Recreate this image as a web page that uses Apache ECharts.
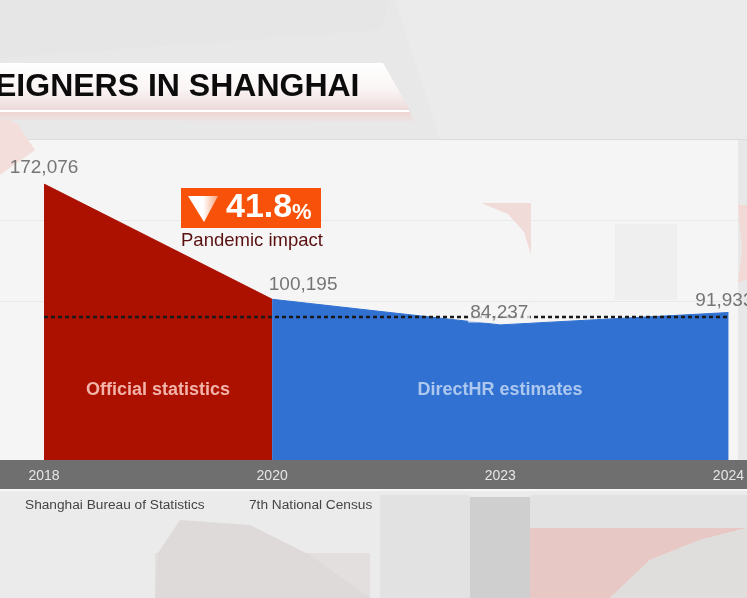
<!DOCTYPE html>
<html><head><meta charset="utf-8">
<style>html,body{margin:0;padding:0;background:#e9e9e9}#c{width:747px;height:598px}</style>
<script src="https://cdn.jsdelivr.net/npm/echarts@6/dist/echarts.min.js"></script>
</head><body><div id="c"></div>
<script>
const years = ['2018','2020','2023','2024'];
const officialValues = [172076,100195,null,null];
const estimateValues = [null,100195,84237,91933];
const referenceLine = [89150,89150,89150,89150];
const titleText = 'EIGNERS IN SHANGHAI';
const badgeText = '41.8';
const badgeNote = 'Pandemic impact';
const areaNames = ['Official statistics','DirectHR estimates'];
const sources = ['Shanghai Bureau of Statistics','7th National Census'];

const FONT = '"Liberation Sans", Arial, sans-serif';
const fmt = v => v.toLocaleString('en-US');
const labelStyle = {show:true,color:'#555',fontSize:19,fontFamily:FONT,position:'top',formatter:p=>fmt(p.value[1])};

const bg = (shape,fill,type='rect') => ({type,shape,style:{fill},z:-10,silent:true});
const chart = echarts.init(document.getElementById('c'),null,{renderer:'canvas'});
chart.setOption({
  animation:false,
  backgroundColor:'#e9e9e9',
  grid:{left:44,right:16,top:184,bottom:138},
  xAxis:{type:'category',data:years,boundaryGap:false,
    axisLine:{show:false},axisTick:{show:false},splitLine:{show:false},
    axisLabel:{color:'#e6e6e6',fontSize:14,fontFamily:FONT,margin:9,showMinLabel:true,showMaxLabel:true,hideOverlap:false,
      alignMinLabel:'center',alignMaxLabel:'center'}},
  yAxis:{type:'value',min:0,max:172076,show:false,splitLine:{show:false}},
  graphic:{elements:[
    // backdrop
    bg({x:0,y:0,width:747,height:139},'#e8e8e8'),
    bg({points:[[0,0],[390,0],[380,30],[0,58]]},'#e6e6e6','polygon'),
    bg({points:[[395,0],[747,0],[747,139],[440,139]]},'#ebebeb','polygon'),
    bg({x:0,y:139,width:747,height:1},'#dddddd'),
    bg({x:0,y:140,width:738,height:320},'#f5f5f5'),
    bg({x:738,y:140,width:9,height:320},'#e8e8e8'),
    bg({points:[[0,112],[18,125],[35,150],[0,175]]},'#f3dedb','polygon'),
    bg({x:0,y:220,width:738,height:1},'#e9e9e9'),
    bg({x:0,y:301,width:738,height:1},'#e9e9e9'),
    bg({points:[[481,203],[531,203],[531,255],[524,232],[508,214]]},'#f1dbd8','polygon'),
    bg({points:[[738,205],[747,205],[747,280],[738,282],[742,250]]},'#f3d9d6','polygon'),
    bg({x:615,y:224,width:62,height:76},'#efefef'),
    bg({x:0,y:460,width:747,height:29},'#6f6f6f'),
    bg({x:0,y:489,width:747,height:2},'#f7f7f7'),
    bg({x:0,y:491,width:747,height:107},'#ebebeb'),
    bg({x:155,y:553,width:215,height:45},'#e2dfde'),
    bg({points:[[155,598],[158,553],[180,520],[250,525],[310,555],[370,598]]},'#dedad9','polygon'),
    bg({x:380,y:495,width:90,height:103},'#e2e2e2'),
    bg({x:470,y:497,width:60,height:101},'#cfcfcf'),
    bg({x:530,y:495,width:217,height:33},'#e2e2e2'),
    bg({points:[[530,528],[747,528],[700,540],[650,560],[610,598],[530,598]]},'#e8c8c4','polygon'),
    bg({points:[[610,598],[650,560],[700,540],[747,528],[747,598]]},'#dfdedd','polygon'),
    // banner
    {type:'polygon',shape:{points:[[0,63],[383,63],[410,110],[0,110]]},z:-9,silent:true,
      style:{fill:new echarts.graphic.LinearGradient(0,0,0,1,[{offset:0,color:'#ffffff'},{offset:0.55,color:'#fbf5f5'},{offset:1,color:'#eddada'}])}},
    {type:'rect',shape:{x:0,y:110,width:409,height:2},style:{fill:'#ffffff'},z:-9,silent:true},
    {type:'polygon',shape:{points:[[0,112],[410,112],[414,122],[0,120]]},z:-9,silent:true,
      style:{fill:new echarts.graphic.LinearGradient(0,0,0,1,[{offset:0,color:'#efd4d2'},{offset:1,color:'#ebe6e6'}])}},
    {type:'text',z:50,silent:true,style:{text:titleText,x:-5,y:87,verticalAlign:'middle',fill:'#0c0c0c',font:'bold 32px '+FONT}},
    // badge
    {type:'rect',z:50,silent:true,shape:{x:181,y:188,width:140,height:40},style:{fill:'#f8520a'}},
    {type:'polygon',z:51,silent:true,shape:{points:[[188,196],[218,196],[204,222]]},
      style:{fill:new echarts.graphic.LinearGradient(0,0,1,0,[{offset:0,color:'#ffffff'},{offset:0.5,color:'#ffffff'},{offset:1,color:'#f9a47e'}])}},
    {type:'text',z:51,silent:true,style:{text:badgeText,x:226,y:208,verticalAlign:'middle',fill:'#fff',font:'bold 34px '+FONT}},
    {type:'text',z:51,silent:true,style:{text:'%',x:292,y:213,verticalAlign:'middle',fill:'#fff',font:'bold 22px '+FONT}},
    {type:'text',z:51,silent:true,style:{text:badgeNote,x:181,y:241,verticalAlign:'middle',fill:'#5a1010',font:'18.5px '+FONT}},
    // area names
    {type:'text',z:51,silent:true,style:{text:areaNames[0],x:158,y:390,align:'center',verticalAlign:'middle',fill:'#f2b3aa',font:'bold 18px '+FONT}},
    {type:'text',z:51,silent:true,style:{text:areaNames[1],x:500,y:390,align:'center',verticalAlign:'middle',fill:'#adc8ef',font:'bold 18px '+FONT}},
    // sources
    {type:'text',z:51,silent:true,style:{text:sources[0],x:25,y:505,verticalAlign:'middle',fill:'#444',font:'13.7px '+FONT}},
    {type:'text',z:51,silent:true,style:{text:sources[1],x:249,y:505,verticalAlign:'middle',fill:'#444',font:'13.7px '+FONT}}
  ]},
  series:[
    {type:'line',name:'Official',data:officialValues,symbol:'none',connectNulls:false,z:3,
      lineStyle:{color:'#ac1100',width:1},areaStyle:{color:'#ac1100',opacity:1}},
    {type:'line',name:'Estimates',data:estimateValues,symbol:'none',z:3,
      lineStyle:{color:'#3171d2',width:1},areaStyle:{color:'#3171d2',opacity:1}},
    {type:'line',name:'Reference',data:referenceLine,symbol:'none',z:4,
      lineStyle:{color:'#1a1a1a',width:2.5,type:[4,3]}},
    {type:'scatter',name:'Labels',z:6,symbolSize:1,itemStyle:{color:'transparent'},
      data:[
        {value:[years[0],officialValues[0]],label:{...labelStyle,offset:[0,-1]}},
        {value:[years[1],estimateValues[1]],label:{...labelStyle,offset:[31,0]}},
        {value:[years[2],estimateValues[2]],label:{...labelStyle,offset:[-1,3],backgroundColor:'#f5f5f5',padding:[0,2,0,2]}},
        {value:[years[3],estimateValues[3]],label:{...labelStyle,offset:[-4,3]}}
      ]}
  ]
});
</script></body></html>
